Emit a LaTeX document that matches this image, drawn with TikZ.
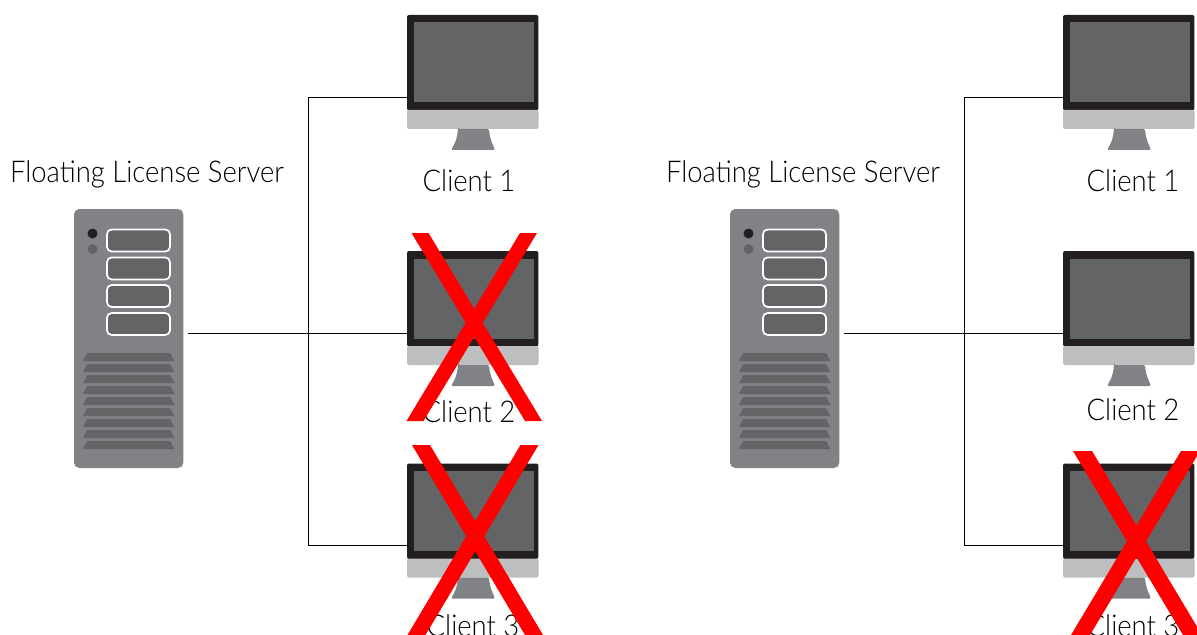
\documentclass[tikz,border=0pt]{standalone}
\usepackage{fontspec}
\setmainfont[FakeStretch=0.915]{Lato Light}
\usepackage{xcolor}
\definecolor{towergray}{HTML}{808285}
\definecolor{panelgray}{HTML}{636466}
\definecolor{bezelblack}{HTML}{231F20}
\definecolor{chingray}{HTML}{BCBEC0}
\definecolor{xred}{HTML}{FF0000}
\tikzset{
  caption/.style={font=\fontsize{22.5}{26}\selectfont,text=black,inner sep=0pt,anchor=base},
  wire/.style={draw=black,line width=0.6pt},
  part/.style={inner sep=0pt,outer sep=0pt,minimum width=#1,anchor=north west},
}
% monitor with its caption: name, left, top, caption x, caption baseline, text
\newcommand{\clientpc}[6]{
  \node (#1) [part=98.5pt,minimum height=71.5pt,fill=bezelblack,rounded corners=1.5pt] at (#2,#3) {};
  \fill[chingray,rounded corners=1.5pt] (#2,#3+95) -- (#2+131.5,#3+95) -- (#2+131.5,#3+114) -- (#2,#3+114) -- cycle;
  \fill[panelgray] (#2+6.5,#3+7.5) rectangle (#2+126.5,#3+87.5);
  \fill[towergray,rounded corners=1pt] (#2+51,#3+114) -- (#2+82,#3+114) .. controls (#2+83,#3+125) and (#2+86,#3+130) .. (#2+88,#3+135) -- (#2+44,#3+135) .. controls (#2+47,#3+130) and (#2+50,#3+125) .. (#2+51,#3+114) -- cycle;
  \coordinate (#1p) at (#2,#3+82);
  \node (#1t) [caption] at (#4,#5) {#6};
}
% tower: name, left
\newcommand{\towerbox}[2]{
  \node (#1) [part=82pt,minimum height=194.25pt,fill=towergray,rounded corners=4pt] at (#2,209) {};
  \fill[bezelblack] (#2+18.5,233.5) circle (5);
  \fill[panelgray] (#2+18.5,249) circle (5);
  \foreach \y in {229.5,257.5,285,313}
    \draw[white,line width=1.3pt,fill=panelgray,rounded corners=3.5pt] (#2+33,\y) rectangle (#2+96,\y+22);
  \foreach \y in {0,...,8}
    \fill[panelgray] (#2+13,353+\y*11) -- (#2+96,353+\y*11) -- (#2+100.5,361+\y*11) -- (#2+9,361+\y*11) -- cycle;
  \coordinate (#1p) at (#2+114,333);
}
% red cross: left, right, top, bottom, inset at the top, stroke width at the ends
\newcommand{\crossout}[6]{
  \fill[xred] (#1+#5,#3) -- (#1+#5+#6,#3) -- (#2,#4) -- (#2-#6,#4) -- cycle;
  \fill[xred] (#2-#5,#3) -- (#2-#5-#6,#3) -- (#1,#4) -- (#1+#6,#4) -- cycle;
}
\begin{document}
\begin{tikzpicture}[x=0.75pt,y=-0.75pt]
\useasboundingbox (0,0) rectangle (1197,635);
% left group
\node (lab1) [caption] at (147,182) {Floating License Server};
\towerbox{srv1}{74}
\clientpc{a1}{407}{15}{469}{191}{Client 1}
\clientpc{a2}{407}{251}{469}{422.5}{Client 2}
\clientpc{a3}{407}{463.5}{473}{636.5}{Client 3}
\coordinate (hub1) at (308.5,333);
\draw[wire] (srv1p) -- (a2p);
\draw[wire] (a1p) -| (hub1) |- (a3p);
\crossout{406.5}{542}{233}{421}{5}{17}
\crossout{407.5}{543}{445}{635}{4.5}{18}
% right group
\node (lab2) [caption] at (803,182) {Floating License Server};
\towerbox{srv2}{730}
\clientpc{b1}{1063}{15}{1133}{191}{Client 1}
\clientpc{b2}{1063}{251}{1133}{420.5}{Client 2}
\clientpc{b3}{1063}{463.5}{1133}{636.5}{Client 3}
\coordinate (hub2) at (964.5,333);
\draw[wire] (srv2p) -- (b2p);
\draw[wire] (b1p) -| (hub2) |- (b3p);
\crossout{1071}{1202}{451}{635}{2}{19}
\end{tikzpicture}
\end{document}
